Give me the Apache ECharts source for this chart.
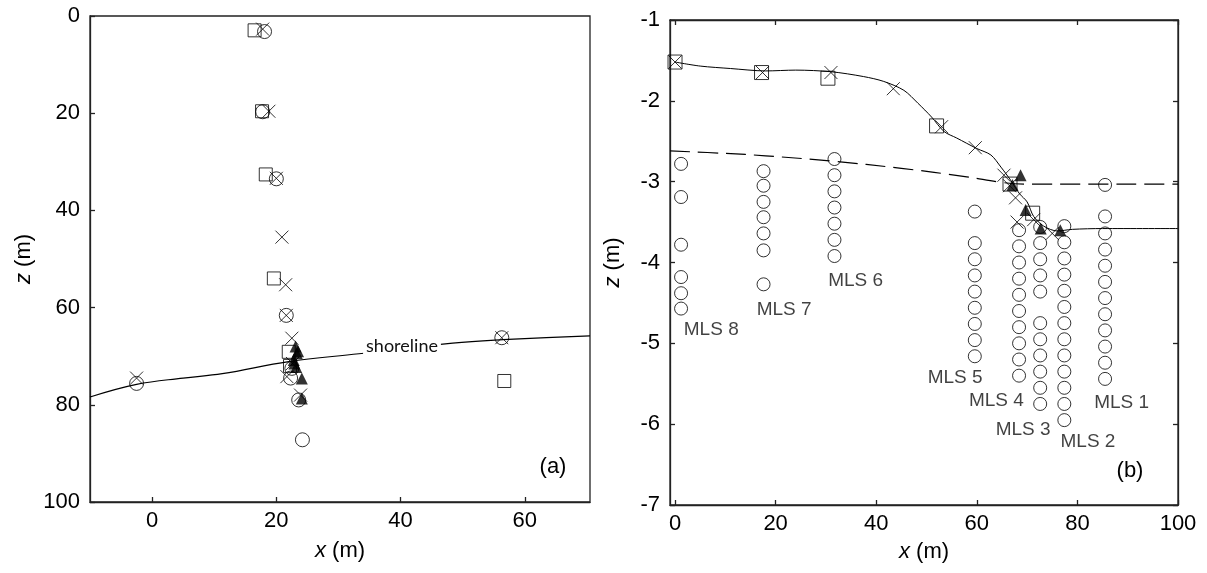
<!DOCTYPE html>
<html>
<head>
<meta charset="utf-8">
<script src="https://cdn.jsdelivr.net/npm/echarts@6/dist/echarts.min.js"></script>
<style>
html,body{margin:0;padding:0;background:#fff;}
#c{width:1207px;height:573px;}
</style>
</head>
<body>
<div id="c"></div>
<script>
// ---------------- Panel (a) data ----------------
var xTicksA = [0, 20, 40, 60];
var zTicksA = [0, 20, 40, 60, 80, 100];
var shorelineA = [[-10, 78.4], [-2.5, 75.8], [5, 74.5], [11.3, 73.6], [22, 71.1], [33.3, 69.5], [48.4, 67.3], [56.5, 66.6], [70.5, 65.8]];
var circlesA = [[18.1, 3.2], [17.8, 19.7], [20.0, 33.5], [21.6, 61.6], [22.5, 72.5], [22.3, 74.5], [23.6, 79.0], [24.2, 87.2], [-2.5, 75.6], [56.3, 66.2]];
var crossesA = [[17.8, 2.7], [18.8, 19.6], [20.0, 33.4], [20.9, 45.5], [21.5, 55.3], [21.6, 61.6], [22.5, 66.3], [22.6, 71.5], [21.7, 74.2], [23.9, 78.0], [-2.5, 74.5], [56.3, 66.2]];
var squaresA = [[16.5, 2.95], [17.7, 19.6], [18.3, 32.6], [19.6, 54.0], [22.0, 69.1], [22.2, 72.0], [56.7, 75.1]];
var trianglesA = [[23.1, 68.0], [23.3, 69.4], [23.5, 69.0], [22.8, 70.8], [22.9, 71.5], [23.2, 72.2], [24.1, 74.6], [24.1, 78.7]];

// ---------------- Panel (b) data ----------------
var xTicksB = [0, 20, 40, 60, 80, 100];
var surfaceB = [[0, -1.52], [5, -1.57], [11, -1.60], [18, -1.63], [24, -1.62], [31, -1.64], [37.5, -1.70], [41.5, -1.76], [45.5, -1.87], [48.3, -2.03], [51, -2.20], [53.5, -2.38], [56, -2.46], [60, -2.59], [62.8, -2.67], [64.8, -2.82], [66.7, -2.98], [68.5, -3.15], [70, -3.25], [71.3, -3.43], [73.3, -3.55], [76, -3.61], [79, -3.59], [85, -3.58], [100, -3.58]];
var dashedB = [[-1, -2.62], [10, -2.65], [18, -2.68], [31, -2.745], [45, -2.835], [58, -2.94], [65, -3.01], [70, -3.03], [100, -3.03]];
var squaresB = [[0, -1.52], [17.2, -1.65], [30.4, -1.72], [52, -2.31], [66.6, -3.03], [71.1, -3.39]];
var crossesB = [[0, -1.52], [17.4, -1.65], [31, -1.65], [43.4, -1.85], [53, -2.32], [59.7, -2.58], [65.4, -2.92], [66.5, -3.05], [67.7, -3.2], [68, -3.5], [71.3, -3.47], [75, -3.64]];
var trianglesB = [[68.7, -2.92], [67.1, -3.04], [69.7, -3.35], [72.7, -3.58], [76.6, -3.60]];

var mlsNames = ['MLS 1', 'MLS 2', 'MLS 3', 'MLS 4', 'MLS 5', 'MLS 6', 'MLS 7', 'MLS 8'];
var mlsX = [85.5, 77.4, 72.6, 68.4, 59.6, 31.7, 17.6, 1.2];
var mls1Z = [-3.04, -3.43, -3.64, -3.84, -4.04, -4.24, -4.44, -4.64, -4.84, -5.04, -5.24, -5.44];
var mls2Z = [-3.55, -3.75, -3.95, -4.15, -4.35, -4.55, -4.75, -4.95, -5.15, -5.35, -5.55, -5.75, -5.95];
var mls3Z = [-3.56, -3.76, -3.96, -4.16, -4.36, -4.75, -4.95, -5.15, -5.35, -5.55, -5.75];
var mls4Z = [-3.60, -3.80, -4.00, -4.20, -4.40, -4.60, -4.80, -5.00, -5.20, -5.40];
var mls5Z = [-3.37, -3.76, -3.96, -4.16, -4.36, -4.56, -4.76, -4.96, -5.16];
var mls6Z = [-2.72, -2.92, -3.12, -3.32, -3.52, -3.72, -3.92];
var mls7Z = [-2.87, -3.05, -3.25, -3.44, -3.64, -3.85, -4.27];
var mls8Z = [-2.78, -3.19, -3.78, -4.18, -4.38, -4.57];
var mlsZ = [mls1Z, mls2Z, mls3Z, mls4Z, mls5Z, mls6Z, mls7Z, mls8Z];
// label anchor (data coords)
var mlsLabelX = [88.9, 82.2, 69.3, 64.0, 55.8, 36.0, 21.8, 7.3];
var mlsLabelZ = [-5.74, -6.22, -6.07, -5.72, -5.43, -4.23, -4.59, -4.84];

// ---------------- build ----------------
var FONT = '"Liberation Sans", Arial, sans-serif';
var TXT = '#000';
var crossPath = 'path://M0,0L10,10M10,0L0,10';

function mlsPoints() {
  var out = [];
  for (var i = 0; i < mlsX.length; i++) {
    for (var j = 0; j < mlsZ[i].length; j++) out.push([mlsX[i], mlsZ[i][j]]);
  }
  return out;
}
function mlsLabelPoints() {
  var out = [];
  for (var i = 0; i < mlsNames.length; i++) out.push({value: [mlsLabelX[i], mlsLabelZ[i]], name: mlsNames[i]});
  return out;
}

var axisLineStyle = {color: '#222', width: 1.3};
var tickLabel = {color: TXT, fontSize: 22, fontFamily: FONT};
function nameRich() {
  return {rich: {it: {fontStyle: 'italic', fontSize: 22, fontFamily: FONT, color: TXT}, n: {fontSize: 22, fontFamily: FONT, color: TXT}}};
}

function openMarker(symbol, size, data, xi, yi, z) {
  return {type: 'scatter', xAxisIndex: xi, yAxisIndex: yi, data: data, symbol: symbol, symbolSize: size,
    itemStyle: {color: 'rgba(0,0,0,0)', borderColor: '#000', borderWidth: 1}, z: z || 3,
    emphasis: {disabled: true}, silent: true};
}
function filledTri(data, xi, yi) {
  return {type: 'scatter', xAxisIndex: xi, yAxisIndex: yi, data: data, symbol: 'triangle', symbolSize: 12,
    itemStyle: {color: '#000'}, z: 5, emphasis: {disabled: true}, silent: true};
}

var chart = echarts.init(document.getElementById('c'), null, {renderer: 'canvas'});
chart.setOption({
  animation: false,
  backgroundColor: '#fff',
  grid: [
    {left: 90, top: 16, width: 500, height: 486, show: true, borderColor: '#222', borderWidth: 1.3, backgroundColor: 'rgba(0,0,0,0)'},
    {left: 670, top: 20, width: 508, height: 485, show: true, borderColor: '#222', borderWidth: 1.3, backgroundColor: 'rgba(0,0,0,0)'}
  ],
  xAxis: [
    {gridIndex: 0, type: 'value', min: -10, max: 70.5,
      axisLine: {show: true, onZero: false, lineStyle: axisLineStyle},
      axisTick: {show: true, inside: true, length: 5, customValues: xTicksA, lineStyle: axisLineStyle},
      axisLabel: Object.assign({customValues: xTicksA, margin: 8}, tickLabel),
      splitLine: {show: false},
      name: '{it|x}{n| (m)}', nameLocation: 'middle', nameGap: 38, nameTextStyle: nameRich()},
    {gridIndex: 1, type: 'value', min: -1, max: 100,
      axisLine: {show: true, onZero: false, lineStyle: axisLineStyle},
      axisTick: {show: true, inside: true, length: 5, customValues: xTicksB, lineStyle: axisLineStyle},
      axisLabel: Object.assign({customValues: xTicksB, margin: 8}, tickLabel),
      splitLine: {show: false},
      name: '{it|x}{n| (m)}', nameLocation: 'middle', nameGap: 36, nameTextStyle: nameRich()},
    {gridIndex: 1, type: 'value', min: -1, max: 100, position: 'top',
      axisLine: {show: true, onZero: false, lineStyle: axisLineStyle},
      axisTick: {show: true, inside: true, length: 5, customValues: xTicksB, lineStyle: axisLineStyle},
      axisLabel: {show: false}, splitLine: {show: false}}
  ],
  yAxis: [
    {gridIndex: 0, type: 'value', min: 0, max: 100, interval: 20, inverse: true,
      axisLine: {show: true, onZero: false, lineStyle: axisLineStyle},
      axisTick: {show: true, inside: true, length: 5, lineStyle: axisLineStyle},
      axisLabel: Object.assign({margin: 10}, tickLabel),
      splitLine: {show: false},
      name: '{it|z}{n| (m)}', nameLocation: 'middle', nameGap: 55, nameTextStyle: nameRich()},
    {gridIndex: 1, type: 'value', min: -7, max: -1, interval: 1,
      axisLine: {show: true, onZero: false, lineStyle: axisLineStyle},
      axisTick: {show: true, inside: true, length: 5, lineStyle: axisLineStyle},
      axisLabel: Object.assign({margin: 10}, tickLabel),
      splitLine: {show: false},
      name: '{it|z}{n| (m)}', nameLocation: 'middle', nameGap: 46, nameTextStyle: nameRich()},
    {gridIndex: 1, type: 'value', min: -7, max: -1, interval: 1, position: 'right',
      axisLine: {show: true, onZero: false, lineStyle: axisLineStyle},
      axisTick: {show: true, inside: true, length: 5, lineStyle: axisLineStyle},
      axisLabel: {show: false}, splitLine: {show: false}}
  ],
  series: [
    // panel a
    {type: 'line', xAxisIndex: 0, yAxisIndex: 0, data: shorelineA, smooth: 0.4, showSymbol: false,
      lineStyle: {color: '#000', width: 1.2}, z: 2, silent: true},
    openMarker('circle', 14, circlesA, 0, 0),
    openMarker(crossPath, 13, crossesA, 0, 0),
    openMarker('rect', 13, squaresA, 0, 0),
    filledTri(trianglesA, 0, 0),
    // panel b
    {type: 'line', xAxisIndex: 1, yAxisIndex: 1, data: surfaceB, smooth: 0.3, showSymbol: false,
      lineStyle: {color: '#000', width: 1}, z: 2, silent: true},
    {type: 'line', xAxisIndex: 1, yAxisIndex: 1, data: dashedB, smooth: 0.4, showSymbol: false,
      lineStyle: {color: '#000', width: 1.2, type: [20, 8]}, z: 2, silent: true},
    openMarker('circle', 13, mlsPoints(), 1, 1),
    openMarker('rect', 14, squaresB, 1, 1),
    openMarker(crossPath, 13, crossesB, 1, 1),
    filledTri(trianglesB, 1, 1),
    {type: 'scatter', xAxisIndex: 1, yAxisIndex: 1, data: mlsLabelPoints(), symbolSize: 1, silent: true,
      itemStyle: {color: 'rgba(0,0,0,0)'},
      label: {show: true, position: [0, 0], align: 'center', verticalAlign: 'middle', formatter: '{b}',
        color: '#111', fontSize: 19, fontFamily: FONT, textBorderWidth: 0}, z: 6}
  ],
  graphic: [
    {type: 'text', x: 402, y: 346, z: 10, style: {text: 'shoreline', font: '18px Lato, "Open Sans", sans-serif', fill: '#111',
      align: 'center', verticalAlign: 'middle', backgroundColor: '#fff', padding: [0, 3]}},
    {type: 'text', x: 553, y: 467, z: 10, style: {text: '(a)', font: '22px "Liberation Sans", Arial, sans-serif', fill: TXT, align: 'center', verticalAlign: 'middle'}},
    {type: 'text', x: 1130, y: 471, z: 10, style: {text: '(b)', font: '22px "Liberation Sans", Arial, sans-serif', fill: TXT, align: 'center', verticalAlign: 'middle'}}
  ]
});
</script>
</body>
</html>
